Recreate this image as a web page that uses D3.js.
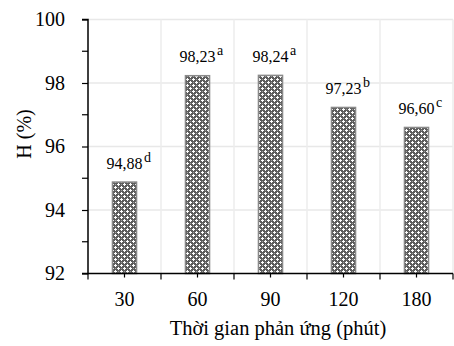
<!DOCTYPE html>
<html>
<head>
<meta charset="utf-8">
<script src="https://cdn.jsdelivr.net/npm/d3@7"></script>
<style>
  html, body { margin: 0; padding: 0; background: #fff; }
  svg { display: block; }
  svg text { font-family: "Liberation Serif", "Times New Roman", serif; fill: #000; }
</style>
</head>
<body>
<svg id="chart" width="454" height="346"></svg>
<script>
// Reaction time (minutes) and efficiency H (%)
const categories = ["30", "60", "90", "120", "180"];
const values = [94.88, 98.23, 98.24, 97.23, 96.60];
const valueLabels = ["94,88", "98,23", "98,24", "97,23", "96,60"];
const letters = ["d", "a", "a", "b", "c"];
const yTicks = [92, 94, 96, 98, 100];
const yMinorTicks = [93, 95, 97, 99];

const svg = d3.select("#chart");
const margin = { left: 88, right: 1, top: 19.5, bottom: 72.5 };
const W = 454, H = 346;

const x = d3.scaleBand().domain(categories)
  .range([margin.left, W - margin.right]).paddingInner(0).paddingOuter(0);
const y = d3.scaleLinear().domain([92, 100]).range([H - margin.bottom, margin.top]);

// Fill pattern for the bars
const defs = svg.append("defs");
const pat = defs.append("pattern").attr("id", "dots")
  .attr("patternUnits", "userSpaceOnUse").attr("width", 6).attr("height", 6);
pat.append("rect").attr("width", 6).attr("height", 6).attr("fill", "#5c5c5c");
[[0,0],[3,3]].forEach(([px, py]) => {
  pat.append("rect").attr("x", px + 1).attr("y", py).attr("width", 1).attr("height", 3).attr("fill", "#ffffff");
  pat.append("rect").attr("x", px).attr("y", py + 1).attr("width", 3).attr("height", 1).attr("fill", "#ffffff");
});
[[0,3],[3,0]].forEach(([px, py]) => {
  pat.append("rect").attr("x", px + 1).attr("y", py + 1).attr("width", 1).attr("height", 1).attr("fill", "#9a9a9a");
});

// Gridlines
svg.append("g").selectAll("line.hg").data(yTicks.filter(t => t > 92)).join("line")
  .attr("x1", margin.left).attr("x2", W - margin.right)
  .attr("y1", d => y(d)).attr("y2", d => y(d))
  .attr("stroke", "#e8e8e8").attr("stroke-width", 1.5);
const bounds = categories.map(c => x(c) + x.bandwidth());
svg.append("g").selectAll("line.vg").data(bounds).join("line")
  .attr("x1", d => d).attr("x2", d => d)
  .attr("y1", margin.top).attr("y2", y(92))
  .attr("stroke", "#ececec").attr("stroke-width", 1.5);

// Bars
const barW = x.bandwidth() * 0.33;
svg.append("g").selectAll("rect").data(values).join("rect")
  .attr("x", (d, i) => x(categories[i]) + (x.bandwidth() - barW) / 2)
  .attr("y", d => y(d))
  .attr("width", barW)
  .attr("height", d => y(92) - y(d))
  .attr("fill", "url(#dots)")
  .attr("stroke", "#8a8a8a").attr("stroke-width", 1.5);

// Value labels with superscript letters
const lab = svg.append("g");
values.forEach((v, i) => {
  const cx = x(categories[i]) + x.bandwidth() / 2;
  const t = lab.append("text").attr("y", y(v) - 13.5).attr("font-size", 16);
  const num = t.append("tspan").text(valueLabels[i]);
  t.append("tspan").attr("dx", 1.5).attr("dy", -7).attr("font-size", 14).text(letters[i]);
  // keep the number centred over the bar
  const numW = num.node().getComputedTextLength();
  t.attr("x", cx - numW / 2);
});

// Y axis
const yAxis = d3.axisLeft(y).tickValues(yTicks).tickSize(6).tickPadding(17).tickFormat(d3.format("d"));
const gy = svg.append("g").attr("transform", `translate(${margin.left},0)`).call(yAxis);
gy.attr("font-family", null);
gy.select(".domain").attr("stroke", "#000").attr("stroke-width", 1.5).attr("d", `M-6,${y(100)}H0V${y(92)}H-6`);
gy.selectAll(".tick line").attr("stroke", "#000").attr("stroke-width", 1.2);
gy.selectAll(".tick text").attr("font-size", 20);
gy.append("g").selectAll("line").data(yMinorTicks).join("line")
  .attr("x1", -6).attr("x2", 0).attr("y1", d => y(d)).attr("y2", d => y(d))
  .attr("stroke", "#000").attr("stroke-width", 1.2);

// X axis
const xAxis = d3.axisBottom(x).tickSize(4).tickPadding(14);
const gx = svg.append("g").attr("transform", `translate(0,${y(92)})`).call(xAxis);
gx.attr("font-family", null);
gx.select(".domain").attr("stroke", "#000").attr("stroke-width", 1.5).attr("d", `M${margin.left},0H${W - margin.right}`);
gx.selectAll(".tick line").attr("stroke", "#000").attr("stroke-width", 1.2);
gx.selectAll(".tick text").attr("font-size", 20);
gx.append("g").selectAll("line").data([margin.left, ...bounds]).join("line")
  .attr("x1", d => d).attr("x2", d => d).attr("y1", 0).attr("y2", 6)
  .attr("stroke", "#000").attr("stroke-width", 1.2);

// Axis titles
svg.append("text").attr("x", 278).attr("y", 335)
  .attr("text-anchor", "middle").attr("font-size", 20.5)
  .text("Thời gian phản ứng (phút)");
svg.append("text").attr("transform", `translate(31,134) rotate(-90)`)
  .attr("text-anchor", "middle").attr("font-size", 20)
  .text("H (%)");
</script>
</body>
</html>
